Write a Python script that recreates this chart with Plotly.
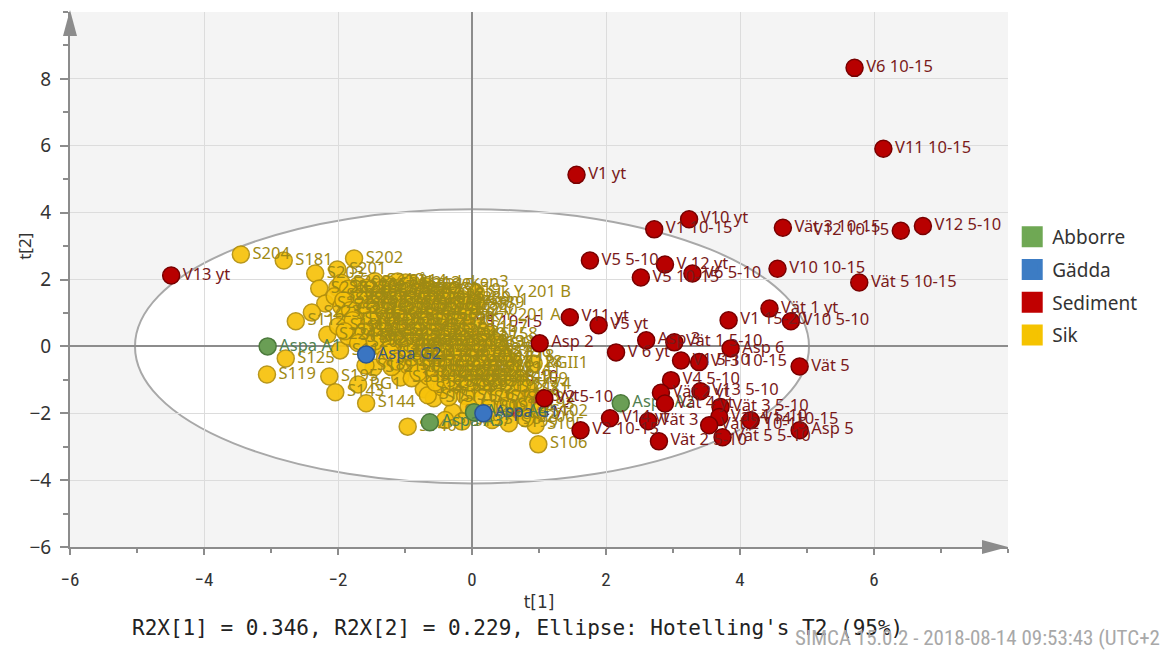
import plotly.graph_objects as go

# ---------------- data (score values t[1], t[2]) ----------------
SEDIMENT = [
    ("V6 10-15", 5.71, 8.33), ("V11 10-15", 6.14, 5.91), ("V1 yt", 1.56, 5.13),
    ("V10 yt", 3.24, 3.80), ("V1 10-15", 2.72, 3.50), ("Vät 3 10-15", 4.64, 3.55),
    ("V12 10-15", 6.40, 3.46), ("V12 5-10", 6.73, 3.60), ("V10 10-15", 4.56, 2.32),
    ("Vät 5 10-15", 5.78, 1.91), ("V5 5-10", 1.76, 2.57), ("V 12 yt", 2.88, 2.45),
    ("V5 10-15", 2.52, 2.06), ("V6 5-10", 3.29, 2.18), ("Vät 1 yt", 4.44, 1.13),
    ("V1 15-20", 3.83, 0.78), ("V10 5-10", 4.76, 0.75), ("V11 yt", 1.46, 0.87),
    ("V5 yt", 1.89, 0.63), ("Asp 2", 1.01, 0.09), ("Asp 3", 2.60, 0.18),
    ("Vät 1 5-10", 3.02, 0.12), ("Asp 6", 3.86, -0.06), ("V 6 yt", 2.15, -0.18),
    ("V1 5-10", 3.12, -0.42), ("V13 10-15", 3.39, -0.47), ("Vät 5", 4.89, -0.60),
    ("V4 5-10", 2.97, -1.01), ("Vät 2 yt", 2.82, -1.39), ("V13 5-10", 3.41, -1.34),
    ("Vät 4 yt", 2.88, -1.71), ("Vät 3 5-10", 3.71, -1.81), ("Vät 4 5-10", 3.69, -2.11),
    ("Vät 2 10-15", 3.54, -2.36), ("V14 10-15", 4.16, -2.21), ("Asp 5", 4.89, -2.51),
    ("Vät 5 5-10", 3.74, -2.72), ("Vät 2 5-10", 2.79, -2.84), ("Vät 3", 2.63, -2.24),
    ("V14 yt", 2.06, -2.15), ("V2 10-15", 1.62, -2.51), ("V13 yt", -4.49, 2.12),
    ("V2 5-10", 1.08, -1.55),
]
# sediment samples that sit underneath the fish cluster
SEDIMENT_UNDER = [
    ("V3 10-15", -0.12, 0.69), ("V3 5-10", 0.26, -0.93),
    ("V3 yt", 0.86, -1.52), ("V2 yt", 0.70, -1.92),
]
ABBORRE = [
    ("Aspa A1", -3.05, 0.00), ("Aspa A3", -0.63, -2.27),
    ("Aspa A4", 0.03, -1.97), ("Aspa A2", 2.22, -1.70),
]
GADDA = [
    ("Aspa G2", -1.58, -0.24), ("Aspa G1", 0.17, -2.00),
]
SIK = [
    ("S204", -3.45, 2.75), ("S181", -2.81, 2.57), ("S202", -1.76, 2.63),
    ("S201", -2.01, 2.30), ("S214", -1.11, 1.94), ("S125", -2.78, -0.36),
    ("S119", -3.06, -0.84), ("S195", -2.13, -0.90), ("RG1", -1.70, -1.14),
    ("S143", -2.04, -1.37), ("S144", -1.58, -1.70), ("S140", -0.96, -2.40),
    ("S106", 0.99, -2.93), ("RGII1", 0.92, -0.51), ("S128", 0.62, -0.48),
    ("S196", 0.45, -0.18), ("S81", 0.86, -1.30), ("S102", 1.00, -1.95),
    ("S105", 0.95, -2.35), ("Sik Y 201 B", 0.06, 1.60), ("Sik Y 201 A", -0.09, 0.90),
    ("Ålandeken3", -0.99, 1.91), ("Ålandeken1", -0.69, 1.37), ("S112", -2.63, 0.75),
    ("S170", -1.75, 0.25),
    ("S203", -2.34, 2.18), ("S220", -2.28, 1.73), ("S221", -2.01, 1.76),
    ("S222", -2.19, 1.28), ("S223", -2.39, 1.01), ("S224", -2.16, 0.35),
    ("S11", -1.97, -0.12), ("S12", -1.47, -0.63), ("S13", -1.07, -0.93),
    ("S14", -0.72, -1.28), ("S15", -0.57, -1.55), ("S16", -0.29, -1.97),
    ("S17", -0.66, -1.46), ("S18", -1.59, -0.57),
    ("S208", -1.95, 1.90), ("S205", -1.70, 1.82), ("S210", -1.45, 1.95),
    ("S211", -1.25, 1.85), ("S213", -0.90, 1.88), ("S215", -0.70, 1.80),
    ("S206", -2.05, 1.50), ("S207", -1.80, 1.60), ("S209", -1.55, 1.52),
    ("S212", -1.30, 1.60), ("S216", -1.05, 1.50), ("S217", -0.85, 1.62),
    ("S218", -0.55, 1.55), ("S219", -0.30, 1.65),
    ("S180", -1.95, 1.20), ("S182", -1.70, 1.30), ("S183", -1.45, 1.22),
    ("S184", -1.20, 1.30), ("S185", -0.95, 1.20), ("S186", -0.70, 1.25),
    ("S187", -0.45, 1.30), ("S188", -0.20, 1.20), ("S189", 0.05, 1.28),
    ("S160", -1.90, 0.95), ("S161", -1.65, 0.88), ("S162", -1.40, 0.98),
    ("S163", -1.15, 0.90), ("S164", -0.90, 0.98), ("S165", -0.65, 0.90),
    ("S166", -0.40, 0.95), ("S167", -0.25, 0.75),
    ("S150", -2.00, 0.60), ("S151", -1.75, 0.55), ("S152", -1.50, 0.65),
    ("S153", -1.25, 0.58), ("S154", -1.00, 0.62), ("S155", -0.75, 0.55),
    ("S156", -0.50, 0.62), ("S157", 0.10, 0.55), ("S158", 0.25, 0.35),
    ("S130", -1.85, 0.30), ("S131", -1.55, 0.22), ("S132", -1.30, 0.32),
    ("S133", -1.05, 0.25), ("S134", -0.80, 0.30), ("S135", -0.55, 0.22),
    ("S136", -0.30, 0.32), ("S137", -0.05, 0.25), ("S138", 0.20, 0.10),
    ("S120", -1.35, -0.02), ("S121", -1.10, 0.05), ("S122", -0.85, -0.05),
    ("S123", -0.60, 0.02), ("S124", -0.35, -0.05), ("S126", -0.10, 0.00),
    ("S127", 0.15, -0.10), ("S129", 0.40, 0.05),
    ("S110", -1.30, -0.35), ("S111", -1.05, -0.28), ("S113", -0.80, -0.35),
    ("S114", -0.55, -0.28), ("S115", -0.30, -0.35), ("S116", -0.05, -0.30),
    ("S117", 0.20, -0.38), ("S118", 0.50, -0.30),
    ("S100", -1.20, -0.62), ("S101", -0.95, -0.58), ("S103", -0.70, -0.65),
    ("S104", -0.45, -0.60), ("S107", -0.20, -0.65), ("S108", 0.05, -0.60),
    ("S109", 0.30, -0.68), ("S141", 0.60, -0.70),
    ("S142", -0.90, -0.95), ("S145", -0.65, -0.90), ("S146", -0.40, -0.95),
    ("S147", -0.15, -0.88), ("S148", 0.10, -0.95), ("S149", 0.45, -0.92),
    ("S159", 0.70, -1.00),
    ("S168", -0.45, -1.22), ("S169", -0.20, -1.18), ("S171", 0.05, -1.25),
    ("S172", 0.30, -1.20), ("S173", 0.55, -1.25), ("S174", 0.75, -1.15),
    ("S175", -0.35, -1.52), ("S176", -0.10, -1.48), ("S177", 0.15, -1.55),
    ("S178", 0.40, -1.50), ("S179", 0.65, -1.58),
    ("S190", -0.05, -1.80), ("S191", 0.25, -1.85), ("S192", 0.50, -1.78),
    ("S193", 0.80, -1.75),
    ("S194", -0.40, -2.20), ("S197", -0.15, -2.25), ("S198", 0.30, -2.20),
    ("S199", 0.55, -2.30), ("S200", 0.80, -2.15),
    ("S226", -1.85, 1.72), ("S227", -1.58, 1.75), ("S228", -1.35, 1.70),
    ("S229", -1.12, 1.74), ("S230", -0.95, 1.68), ("S231", -0.62, 1.70),
    ("S232", -0.40, 1.50),
    ("S233", -1.92, 1.38), ("S234", -1.68, 1.42), ("S235", -1.42, 1.38),
    ("S236", -1.18, 1.44), ("S237", -0.92, 1.38), ("S238", -0.68, 1.42),
    ("S239", -0.15, 1.42), ("S240", -0.05, 1.05),
    ("S241", -1.82, 1.08), ("S242", -1.55, 1.10), ("S243", -1.30, 1.05),
    ("S244", -1.05, 1.10), ("S245", -0.80, 1.05), ("S246", -0.55, 1.10),
    ("S247", -0.30, 1.05),
    ("S248", -1.78, 0.78), ("S249", -1.52, 0.80), ("S250", -1.28, 0.76),
    ("S251", -1.02, 0.80), ("S252", -0.78, 0.75), ("S253", -0.52, 0.80),
    ("S254", -1.90, 0.45), ("S255", -1.62, 0.42), ("S256", -1.38, 0.48),
    ("S257", -1.12, 0.42), ("S258", -0.88, 0.46), ("S259", -0.62, 0.40),
    ("S260", -0.38, 0.46), ("S261", -0.10, 0.45),
    ("S262", -1.70, 0.10), ("S263", -1.45, 0.15), ("S264", -1.20, 0.12),
    ("S265", -0.95, 0.16), ("S266", -0.70, 0.12), ("S267", -0.45, 0.15),
    ("S268", -0.20, 0.12), ("S269", 0.05, 0.10),
    ("S270", -1.22, -0.18), ("S271", -0.95, -0.15), ("S272", -0.70, -0.18),
    ("S273", -0.45, -0.15), ("S274", -0.20, -0.18), ("S275", 0.30, -0.20),
    ("S276", -1.12, -0.45), ("S277", -0.85, -0.48), ("S278", -0.60, -0.45),
    ("S279", -0.35, -0.48), ("S280", -0.10, -0.45), ("S281", 0.15, -0.50),
    ("S282", -0.80, -0.78), ("S283", -0.55, -0.75), ("S284", -0.30, -0.78),
    ("S285", -0.05, -0.75), ("S286", 0.20, -0.80),
    ("S287", -0.55, -1.08), ("S288", -0.30, -1.05), ("S289", -0.05, -1.08),
    ("S290", 0.20, -1.05),
]
LEFT_LABELS = ["V12 10-15"]

CATEGORIES = ["Abborre", "Gädda", "Sediment", "Sik"]
LEGEND_COLOR = {"Abborre": "#6FA854", "Gädda": "#3C7CC4", "Sediment": "#C00000", "Sik": "#F5C300"}
FILL = {"Abborre": "#6A9E55", "Gädda": "#3A75C2", "Sediment": "#B80000", "Sik": "#F7C20A"}
EDGE = {"Abborre": "#4C7A3C", "Gädda": "#2A5590", "Sediment": "#780000", "Sik": "#B38F0A"}
TEXTC = {"Abborre": "#4F8050", "Gädda": "#3D5A78", "Sediment": "#7A1A1A", "Sik": "#9E8914"}

ELLIPSE_A, ELLIPSE_B = 5.03, 4.10
SUBTITLE = "R2X[1] = 0.346, R2X[2] = 0.229, Ellipse: Hotelling's T2 (95%)"
STAMP = "SIMCA 15.0.2 - 2018-08-14 09:53:43 (UTC+2)"

fig = go.Figure()


def add_points(pts, cat, opacity=1.0):
    names = [p[0] for p in pts]
    fig.add_trace(go.Scatter(
        x=[p[1] for p in pts], y=[p[2] for p in pts],
        mode="markers+text", text=names,
        textposition=["middle left" if n in LEFT_LABELS else "middle right" for n in names],
        textfont=dict(family="Noto Sans, Open Sans, sans-serif", size=16.5, color=TEXTC[cat]),
        marker=dict(size=17, color=FILL[cat], opacity=opacity,
                    line=dict(color=EDGE[cat], width=1.5)),
        name=cat, legendgroup=cat, showlegend=False, hoverinfo="text",
    ))


add_points(SEDIMENT_UNDER, "Sediment", 0.8)
add_points(SIK, "Sik", 0.92)
add_points(ABBORRE, "Abborre")
add_points(GADDA, "Gädda")
add_points(SEDIMENT, "Sediment")

for cat in CATEGORIES:
    fig.add_trace(go.Scatter(
        x=[None], y=[None], mode="markers", name=cat, legendgroup=cat,
        marker=dict(symbol="square", size=20, color=LEGEND_COLOR[cat],
                    line=dict(color=LEGEND_COLOR[cat], width=6)),
    ))

axis_common = dict(
    showgrid=True, gridcolor="#DCDCDC", gridwidth=1,
    zeroline=True, zerolinecolor="#8C8C8C", zerolinewidth=2,
    showline=True, linecolor="#8C8C8C", linewidth=2,
    ticks="outside", tickcolor="#8C8C8C", tickwidth=1.5, automargin=False,
)

# the page body has an 8 px margin, so the figure is 8 px smaller and margins shifted
fig.update_layout(
    width=1160, height=644,
    margin=dict(l=62, r=160, t=4, b=105),
    paper_bgcolor="white", plot_bgcolor="#F4F4F4",
    font=dict(family="Noto Sans, Open Sans, sans-serif", color="#333333"),
    xaxis=dict(
        range=[-6, 8], tickvals=[-6, -4, -2, 0, 2, 4, 6], ticklen=6,
        minor=dict(dtick=1, ticks="outside", ticklen=4, tickcolor="#8C8C8C", showgrid=False),
        tickfont=dict(family="Liberation Sans Narrow, Roboto Condensed, DejaVu Sans Condensed, sans-serif",
                      size=19, color="#333333"),
        ticklabelstandoff=8,
        title=dict(text="t[1]", font=dict(size=17, family="Liberation Sans Narrow, DejaVu Sans, sans-serif"),
                   standoff=6),
        **axis_common,
    ),
    yaxis=dict(
        range=[-6, 10], tickvals=[-6, -4, -2, 0, 2, 4, 6, 8], ticklen=8,
        minor=dict(dtick=1, ticks="outside", ticklen=5, tickcolor="#8C8C8C", showgrid=False),
        tickfont=dict(size=19, color="#333333"), ticklabelstandoff=5,
        **axis_common,
    ),
    legend=dict(
        x=1.0045, y=0.615, xanchor="left", yanchor="top",
        font=dict(size=19, color="#333333"), traceorder="grouped",
        tracegroupgap=5, bgcolor="rgba(0,0,0,0)", itemclick=False,
    ),
    shapes=[
        dict(type="circle", xref="x", yref="y",
             x0=-ELLIPSE_A, x1=ELLIPSE_A, y0=-ELLIPSE_B, y1=ELLIPSE_B,
             fillcolor="white", line=dict(color="#A8A8A8", width=2), layer="below"),
        # arrow heads on the axes
        dict(type="path", xref="paper", yref="paper", xsizemode="pixel", ysizemode="pixel",
             xanchor=0, yanchor=1, path="M -7,-24 L 0,2 L 7,-24 Z",
             fillcolor="#8C8C8C", line=dict(width=0)),
        dict(type="path", xref="paper", yref="paper", xsizemode="pixel", ysizemode="pixel",
             xanchor=1, yanchor=0, path="M -26,-7 L 0,0 L -26,7 Z",
             fillcolor="#8C8C8C", line=dict(width=0)),
    ],
    annotations=[
        dict(text="t[2]", xref="paper", yref="paper", x=-0.048, y=0.563,
             xanchor="center", yanchor="middle", showarrow=False, textangle=-90,
             font=dict(size=17, color="#333333")),
        dict(text=SUBTITLE, xref="paper", yref="paper", x=0.477, y=-0.151,
             xanchor="center", yanchor="middle", showarrow=False,
             font=dict(family="DejaVu Sans Mono, Liberation Mono, monospace", size=21, color="#222222")),
        dict(text=STAMP, xref="paper", yref="paper", x=1.172, y=-0.171,
             xanchor="right", yanchor="middle", showarrow=False,
             font=dict(family="Liberation Sans Narrow, Roboto Condensed, DejaVu Sans Condensed, sans-serif",
                       size=21, color="#A8A8A8")),
    ],
)

fig.write_html("out.html")
